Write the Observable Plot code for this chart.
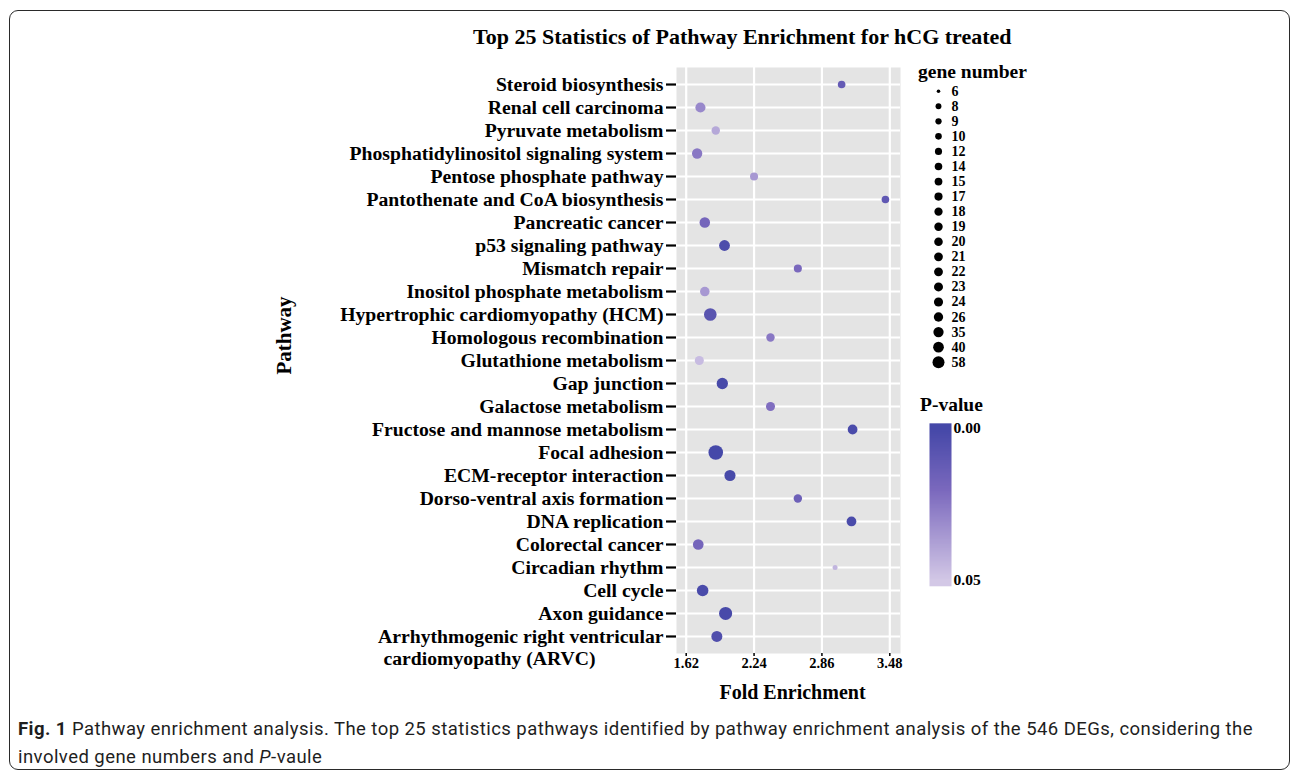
<!DOCTYPE html>
<html>
<head>
<meta charset="utf-8">
<script src="https://cdn.jsdelivr.net/npm/d3@7"></script>
<script src="https://cdn.jsdelivr.net/npm/@observablehq/plot@0.6"></script>
<style>
  html, body { margin: 0; padding: 0; background: #fff; }
  body { width: 1292px; height: 774px; position: relative; overflow: hidden; }
  .abs { position: absolute; }
  #border { left: 9px; top: 10px; width: 1279px; height: 758px; border: 1.6px solid #2a2a2a; border-radius: 9px; }
  .serif { font-family: "Liberation Serif", "Times New Roman", serif; font-weight: bold; color: #000; white-space: nowrap; }
  #title { left: 473px; top: 24px; font-size: 22px; line-height: 26px; }
  #geneTitle { left: 918px; top: 60px; font-size: 19.5px; line-height: 24px; }
  #pTitle { left: 920px; top: 393px; font-size: 19.5px; line-height: 24px; }
  #caption { left: 18px; top: 715px; font-family: Roboto, "Noto Sans", sans-serif; font-size: 18.5px; letter-spacing: 0.45px; line-height: 28px; color: #1e1e1e; white-space: nowrap; }
  #caption b { font-weight: bold; }
</style>
</head>
<body>
<div id="border" class="abs"></div>
<div id="title" class="abs serif">Top 25 Statistics of Pathway Enrichment for hCG treated</div>
<div id="main" class="abs" style="left:0;top:0"></div>
<div id="geneTitle" class="abs serif">gene number</div>
<div id="geneLegend" class="abs" style="left:900px;top:80px"></div>
<div id="pTitle" class="abs serif">P-value</div>
<div id="pLegend" class="abs" style="left:900px;top:380px"></div>
<div id="caption" class="abs"><b>Fig. 1</b> Pathway enrichment analysis. The top 25 statistics pathways identified by pathway enrichment analysis of the 546 DEGs, considering the<br>involved gene numbers and <i>P</i>-vaule</div>
<script>
// ---------- data ----------
const pathways = [
  "Steroid biosynthesis",
  "Renal cell carcinoma",
  "Pyruvate metabolism",
  "Phosphatidylinositol signaling system",
  "Pentose phosphate pathway",
  "Pantothenate and CoA biosynthesis",
  "Pancreatic cancer",
  "p53 signaling pathway",
  "Mismatch repair",
  "Inositol phosphate metabolism",
  "Hypertrophic cardiomyopathy (HCM)",
  "Homologous recombination",
  "Glutathione metabolism",
  "Gap junction",
  "Galactose metabolism",
  "Fructose and mannose metabolism",
  "Focal adhesion",
  "ECM-receptor interaction",
  "Dorso-ventral axis formation",
  "DNA replication",
  "Colorectal cancer",
  "Circadian rhythm",
  "Cell cycle",
  "Axon guidance",
  "Arrhythmogenic right ventricular\ncardiomyopathy (ARVC)"
];
const foldEnrichment = [3.04, 1.75, 1.89, 1.72, 2.24, 3.44, 1.79, 1.97, 2.64, 1.79, 1.84, 2.39, 1.74, 1.95, 2.39, 3.14, 1.89, 2.02, 2.64, 3.13, 1.73, 2.98, 1.77, 1.98, 1.90];
const geneNumber = [8, 17, 10, 18, 9, 8, 19, 21, 9, 14, 35, 10, 12, 24, 12, 15, 58, 23, 10, 15, 20, 6, 26, 40, 22];
const pValue = [0.012, 0.03, 0.04, 0.025, 0.035, 0.01, 0.018, 0.003, 0.02, 0.035, 0.008, 0.025, 0.046, 0.001, 0.022, 0.002, 0.0005, 0.001, 0.015, 0.002, 0.018, 0.044, 0.002, 0.001, 0.004];
const xTicks = [1.62, 2.24, 2.86, 3.48];
const geneLegendValues = [6, 8, 9, 10, 12, 14, 15, 17, 18, 19, 20, 21, 22, 23, 24, 26, 35, 40, 58];
const pTicks = [0, 0.05];

const rows = pathways.map((name, i) => ({name, fe: foldEnrichment[i], genes: geneNumber[i], p: pValue[i]}));

const colorOpts = {type: "linear", domain: [0, 0.02, 0.05], range: ["#4548a8", "#7a68bd", "#d3c8e6"], clamp: true};
const rOpts = (lo, hi) => ({type: "pow", exponent: 0.4, transform: n => n - 6, domain: [0, 52], range: [lo, hi]});
const serif = "'Liberation Serif', 'Times New Roman', serif";

// ---------- main chart ----------
const W = 1292, H = 700;
const frameL = 676, frameR = 900, frameT = 67, frameB = 653;
const main = Plot.plot({
  width: W, height: H,
  marginLeft: frameL, marginRight: W - frameR, marginTop: frameT, marginBottom: H - frameB,
  style: {fontFamily: serif, fontWeight: "bold", color: "#000", background: "transparent", overflow: "visible"},
  x: {domain: [1.5314, 3.5778], axis: null},
  y: {type: "point", domain: pathways, padding: 0.74, round: false, axis: null},
  r: rOpts(2.5, 7.3),
  color: colorOpts,
  marks: [
    Plot.frame({fill: "#e4e4e4", stroke: null}),
    Plot.gridX(xTicks, {stroke: "#fff", strokeOpacity: 1, strokeWidth: 2.2}),
    Plot.gridY(pathways, {stroke: "#fff", strokeOpacity: 1, strokeWidth: 1.8}),
    Plot.dot(rows, {x: "fe", y: "name", r: "genes", fill: "p", stroke: null}),
    Plot.axisX(xTicks, {tickSize: 3, tickPadding: 1, tickFormat: d3.format(".2f"), fontSize: 14.5, strokeWidth: 1.5, label: null}),
    Plot.axisY(pathways, {tickSize: 10, tickPadding: 3, tickFormat: d => d.split("\n")[0], fontSize: 19.7, strokeWidth: 2.2, label: null}),
    Plot.text(pathways.filter(d => d.includes("\n")), {y: d => d, text: d => d.split("\n")[1], frameAnchor: "left", textAnchor: "start", dx: -293, dy: 22, fontSize: 19.7}),
    Plot.text(["Pathway"], {frameAnchor: "left", textAnchor: "middle", lineAnchor: "middle", rotate: -90, dx: -392, dy: -25, fontSize: 21}),
    Plot.text(["Fold Enrichment"], {frameAnchor: "bottom", textAnchor: "middle", lineAnchor: "middle", dx: 4, dy: 39, fontSize: 20})
  ]
});
document.getElementById("main").appendChild(main);

// ---------- gene number legend ----------
const gL = Plot.plot({
  width: 140, height: 295,
  marginLeft: 0, marginRight: 0, marginTop: 10.7, marginBottom: 13.3,
  style: {fontFamily: serif, fontWeight: "bold", color: "#000", background: "transparent", overflow: "visible"},
  y: {type: "point", domain: geneLegendValues.map(String), padding: 0, round: false, axis: null},
  r: rOpts(1.8, 6),
  marks: [
    Plot.dot(geneLegendValues, {y: d => String(d), r: d => d, fill: "#000", stroke: null, frameAnchor: "left", dx: 38}),
    Plot.text(geneLegendValues, {y: d => String(d), text: d => String(d), frameAnchor: "left", textAnchor: "start", dx: 51, fontSize: 14})
  ]
});
document.getElementById("geneLegend").appendChild(gL);

// ---------- P-value colour bar ----------
const pL = Plot.plot({
  width: 140, height: 220,
  marginLeft: 29, marginRight: 89, marginTop: 48, marginBottom: 20,
  style: {fontFamily: serif, fontWeight: "bold", color: "#000", background: "transparent", overflow: "visible"},
  x: {domain: [0, 1], axis: null},
  y: {domain: [0, 0.05], reverse: true, axis: null},
  color: colorOpts,
  marks: [
    Plot.raster({fill: (x, y) => y, x1: 0, x2: 1, y1: -0.0017, y2: 0.0519, width: 1, height: 200}),
    Plot.axisY(pTicks, {anchor: "right", tickSize: 0, tickPadding: 2, tickFormat: d3.format(".2f"), fontSize: 15.5, label: null})
  ]
});
document.getElementById("pLegend").appendChild(pL);
</script>
</body>
</html>
